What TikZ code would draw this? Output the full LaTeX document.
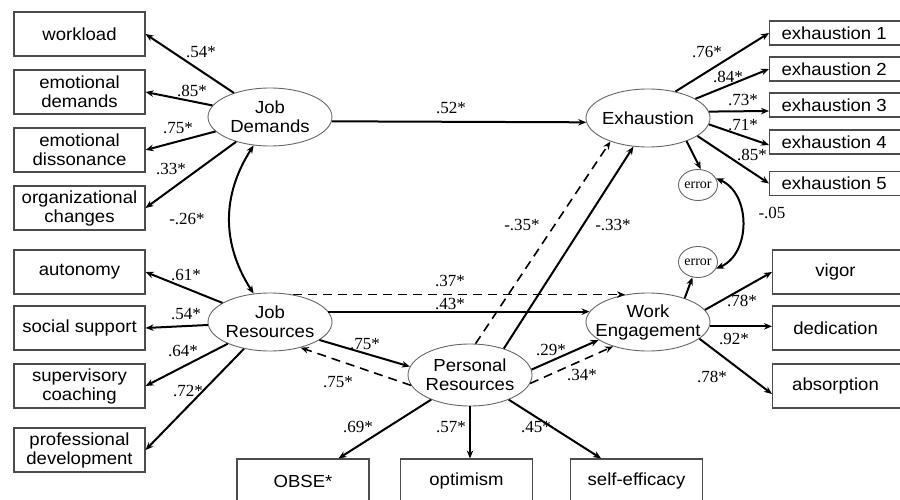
\documentclass[tikz,border=0pt]{standalone}
\usepackage{fontspec}
\setmainfont[FakeStretch=1.06]{Liberation Sans}
\newfontfamily\coeffont{Liberation Serif}
\usetikzlibrary{shapes.geometric,arrows.meta}

\begin{document}
\begin{tikzpicture}[x=1pt,y=-1pt,
  obs/.style={draw=black!70, line width=1.1pt, rectangle, minimum width=131pt,
    minimum height=44pt, inner sep=0pt, align=center,
    font=\fontsize{17.5}{19}\selectfont},
  sidebox/.style={draw=black!70, line width=1.1pt, rectangle, anchor=west,
    inner sep=0pt, font=\fontsize{17.5}{19}\selectfont},
  lat/.style={ellipse, draw=black!60, line width=0.9pt, minimum width=124pt,
    minimum height=58pt, inner sep=-10pt, align=center,
    font=\fontsize{17.5}{19}\selectfont},
  err/.style={ellipse, draw=black!60, line width=0.9pt, minimum width=39pt,
    minimum height=31pt, inner sep=0pt, font=\coeffont\fontsize{14}{16}\selectfont},
  coef/.style={font=\coeffont\fontsize{17}{19}\selectfont, inner sep=0pt},
  arr/.style={line width=2pt, -{Stealth[length=8pt,width=6.5pt]}},
  darr/.style={arr, line width=1.6pt, dash pattern=on 9pt off 6pt},
  biarr/.style={line width=2pt, {Stealth[length=8pt,width=6.5pt]}-{Stealth[length=8pt,width=6.5pt]}}
]
\useasboundingbox (0,0) rectangle (900,500);
\clip (0,0) rectangle (900,500);

% indicators of the job demands and job resources
\node[obs] (wl)   at (79.5,34)  {workload};
\node[obs] (ed)   at (79.5,92)  {emotional\\demands};
\node[obs] (edis) at (79.5,150) {emotional\\dissonance};
\node[obs] (oc)   at (79.5,208) {organizational\\changes};
\node[obs] (au)   at (79.5,272) {autonomy};
\node[obs] (ss)   at (79.5,328) {social support};
\node[obs] (sc)   at (79.5,386) {supervisory\\coaching};
\node[obs] (pd)   at (79.5,450) {professional\\development};

% latent variables
\node[lat] (JD) at (270,117) {Job\\Demands};
\node[lat] (JR) at (270,322) {Job\\Resources};
\node[lat] (EX) at (648,118) {Exhaustion};
\node[lat] (WE) at (648,322) {Work\\Engagement};
\node[lat, minimum height=62pt] (PR) at (470,375) {Personal\\Resources};

% residual terms
\node[err] (E1) at (698,185) {error};
\node[err] (E2) at (698,262) {error};

% exhaustion items
\node[sidebox, minimum height=24pt] (x1) at (769,33)    {\makebox[150pt][l]{\hspace{12pt}exhaustion 1}};
\node[sidebox, minimum height=24pt] (x2) at (769,69)    {\makebox[150pt][l]{\hspace{12pt}exhaustion 2}};
\node[sidebox, minimum height=24pt] (x3) at (769,105)   {\makebox[150pt][l]{\hspace{12pt}exhaustion 3}};
\node[sidebox, minimum height=24pt] (x4) at (769,142)   {\makebox[150pt][l]{\hspace{12pt}exhaustion 4}};
\node[sidebox, minimum height=24pt] (x5) at (769,183.5) {\makebox[150pt][l]{\hspace{12pt}exhaustion 5}};

% engagement items
\node[sidebox, minimum height=44pt] (vig) at (772,272) {\makebox[150pt][l]{\makebox[126pt]{vigor}}};
\node[sidebox, minimum height=44pt] (ded) at (772,328) {\makebox[150pt][l]{\makebox[126pt]{dedication}}};
\node[sidebox, minimum height=44pt] (abs) at (772,386) {\makebox[150pt][l]{\makebox[126pt]{absorption}}};

% personal resources items
\node[obs, minimum width=132pt] (ob)  at (303,481)   {OBSE*};
\node[obs, minimum width=132pt] (opt) at (466.5,481) {optimism};
\node[obs, minimum width=132pt] (se)  at (636.5,481) {self-efficacy};

% measurement paths
\draw[arr] (JD) -- (wl.east);
\draw[arr] (JD) -- (ed.east);
\draw[arr] (JD) -- (edis.east);
\draw[arr] (JD) -- (oc.east);
\draw[arr] (JR) -- (au.east);
\draw[arr] (JR) -- (ss.east);
\draw[arr] (JR) -- (sc.east);
\draw[arr] (JR) -- (pd.east);
\draw[arr] (EX.44) -- (x1.west);
\draw[arr] (EX.22) -- (x2.west);
\draw[arr] (EX.6) -- ([yshift=-6pt]x3.west);
\draw[arr] (EX.-6) -- ([yshift=-3pt]x4.west);
\draw[arr] (EX.-20) -- (x5.west);
\draw[arr] (WE.12) -- (vig.west);
\draw[arr] (WE.-4) -- (WE.-4 -| ded.west);
\draw[arr] (WE.-18) -- ([yshift=-8pt]abs.west);
\draw[arr] (PR) -- (ob);
\draw[arr] (PR.south) -- (PR.south |- opt.north);
\draw[arr] (PR) -- (se);
\draw[arr] (EX.-31) -- (E1.80);
\draw[arr] (WE.33) -- (E2.250);

% structural paths
\draw[arr] (JD.-4) -- (EX.184);
\draw[arr] (JR.10) -- (WE.170);
\draw[darr] (JR.50) -- (WE.130);
\draw[arr] (JR.-20) -- (PR.172);
\draw[darr] (PR.190) -- (JR.-40);
\draw[darr] (PR.80) -- (EX.212);
\draw[arr] (PR.38) -- (EX.243);
\draw[arr] (PR.5) -- (WE.200);
\draw[darr] (PR.-8) -- (WE.215);

% covariances
\draw[biarr] (JD.240) .. controls +(-32,50) and +(-32,-50) .. (JR.120);
\draw[biarr] (E1.20) .. controls +(35,15) and +(35,-15) .. (E2.-20);

% coefficients
\node[coef] (k1)  at (201,52)  {.54*};
\node[coef] (k2)  at (192,91)  {.85*};
\node[coef] (k3)  at (178,128) {.75*};
\node[coef] (k4)  at (171,169) {.33*};
\node[coef] (k5)  at (187,219) {-.26*};
\node[coef] (k6)  at (186,275) {.61*};
\node[coef] (k7)  at (186,314) {.54*};
\node[coef] (k8)  at (183,351) {.64*};
\node[coef] (k9)  at (188,391) {.72*};
\node[coef] (k10) at (365,344) {.75*};
\node[coef] (k11) at (338,382) {.75*};
\node[coef] (k12) at (358,427) {.69*};
\node[coef] (k13) at (451,427) {.57*};
\node[coef] (k14) at (536,427) {.45*};
\node[coef] (k15) at (551,350) {.29*};
\node[coef] (k16) at (582,375) {.34*};
\node[coef] (k17) at (450,281) {.37*};
\node[coef] (k18) at (450,304) {.43*};
\node[coef] (k19) at (742,301) {.78*};
\node[coef] (k20) at (734,339) {.92*};
\node[coef] (k21) at (712,377) {.78*};
\node[coef] (k22) at (451,108) {.52*};
\node[coef] (k23) at (522,225) {-.35*};
\node[coef] (k24) at (613,225) {-.33*};
\node[coef] (k25) at (707,52)  {.76*};
\node[coef] (k26) at (728,77)  {.84*};
\node[coef] (k27) at (743,100) {.73*};
\node[coef] (k28) at (743,125) {.71*};
\node[coef] (k29) at (752,155) {.85*};
\node[coef] (k30) at (772,213) {-.05};
\end{tikzpicture}
\end{document}
